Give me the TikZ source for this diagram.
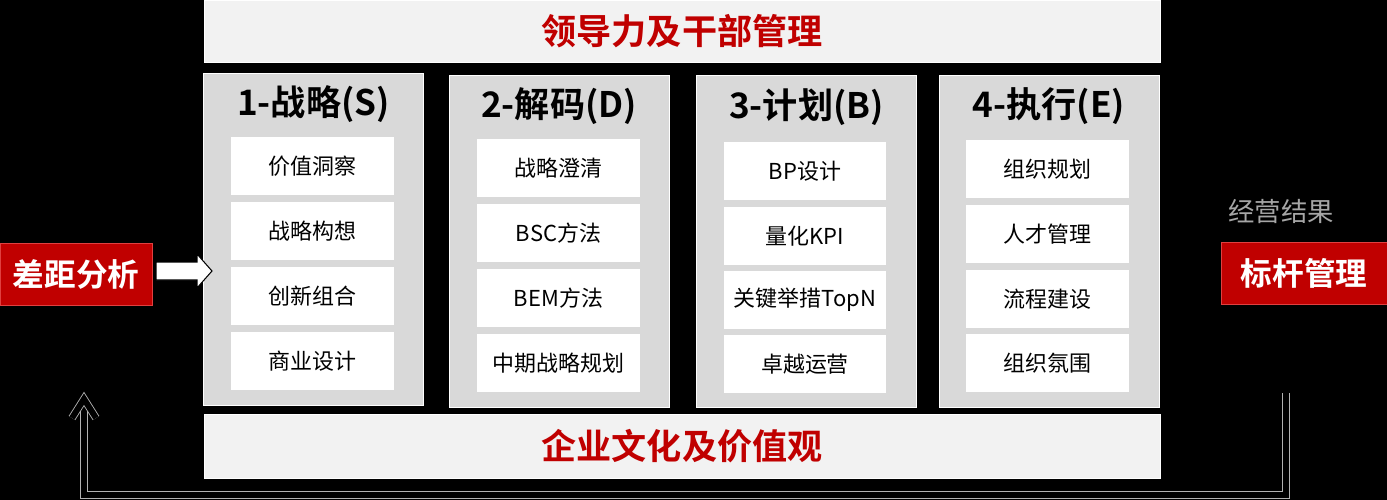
\documentclass[tikz,border=0pt]{standalone}
\usepackage{fontspec}
\setmainfont{Noto Sans CJK SC}[BoldFont={Noto Sans CJK SC Bold}]
\definecolor{bandgray}{HTML}{F2F2F2}
\definecolor{colgray}{HTML}{D9D9D9}
\definecolor{darkred}{HTML}{C00000}
\definecolor{redline}{HTML}{E04040}
\begin{document}
\begin{tikzpicture}[x=0.02cm, y=-0.02cm,
    band/.style={fill=bandgray, draw=white, line width=0.4pt, minimum width=19.12cm, minimum height=1.24cm, inner sep=0pt, text=darkred, font=\bfseries\fontsize{20}{24}\selectfont},
    column/.style={fill=colgray, draw=white, line width=0.4pt, minimum width=4.4cm, minimum height=6.64cm, inner sep=0pt},
    coltitle/.style={text=black, font=\bfseries\fontsize{20}{24}\selectfont},
    item/.style={fill=white, minimum width=3.26cm, minimum height=1.16cm, inner sep=0pt, font=\fontsize{12.5}{15}\selectfont},
    redbox/.style={fill=darkred, draw=redline, line width=0.5pt, minimum height=1.24cm, inner sep=0pt, text=white, font=\bfseries\fontsize{18}{22}\selectfont},
    feedback/.style={draw=gray!60, line width=0.5pt, double=black, double distance=0.12cm, line join=miter}]

        \fill[black] (0,0) rectangle (1387,500);
        \useasboundingbox (0,0) rectangle (1387,500);

        \node[band] (leader) at (682,31) {领导力及干部管理};
        \node[band, minimum height=1.28cm] (culture) at (682,446) {企业文化及价值观};

        \node[column] (col1) at (313.5,239) {};
        \node[column] (col2) at (559,241) {};
        \node[column] (col3) at (806.5,241) {};
        \node[column] (col4) at (1049,241) {};

        \node[coltitle] (t1) at (313.5,104) {1-战略(S)};
        \node[coltitle] (t2) at (559,106) {2-解码(D)};
        \node[coltitle] (t3) at (806.5,107) {3-计划(B)};
        \node[coltitle] (t4) at (1049,106) {4-执行(E)};

        \node[item] (s1) at (312.5,166) {价值洞察};
        \node[item] (s2) at (312.5,231) {战略构想};
        \node[item] (s3) at (312.5,296) {创新组合};
        \node[item] (s4) at (312.5,361) {商业设计};

        \node[item] (d1) at (558.5,168) {战略澄清};
        \node[item] (d2) at (558.5,233) {BSC方法};
        \node[item] (d3) at (558.5,298) {BEM方法};
        \node[item] (d4) at (558.5,363) {中期战略规划};

        \node[item] (b1) at (805,171) {BP设计};
        \node[item] (b2) at (805,236) {量化KPI};
        \node[item] (b3) at (805,300) {关键举措TopN};
        \node[item] (b4) at (805,364) {卓越运营};

        \node[item] (e1) at (1047.5,169) {组织规划};
        \node[item] (e2) at (1047.5,234) {人才管理};
        \node[item] (e3) at (1047.5,299) {流程建设};
        \node[item] (e4) at (1047.5,363) {组织氛围};

        \node[redbox, minimum width=3.04cm] (gap) at (76,274) {差距分析};
        \node[redbox, minimum width=3.32cm] (bench) at (1304,273) {标杆管理};
        \node[text=gray!70, font=\fontsize{15}{18}\selectfont] (result) at (1281,212) {经营结果};

        % block arrow into the strategy column
        \draw[fill=white, draw=black, line width=0.6pt] (156,262) -- (197,262) -- (197,254) -- (212,271)
            -- (197,288) -- (197,280) -- (156,280) -- cycle;

        % feedback loop
        \coordinate (fbstart) at (1286,393);
        \coordinate (fbtip) at (84,399);
        \draw[feedback] (fbstart) -- (1286,495) -- (84,495) -- (84,404);
        \draw[feedback] (72,418) -- (fbtip) -- (96,418);

    \end{tikzpicture}
\end{document}
